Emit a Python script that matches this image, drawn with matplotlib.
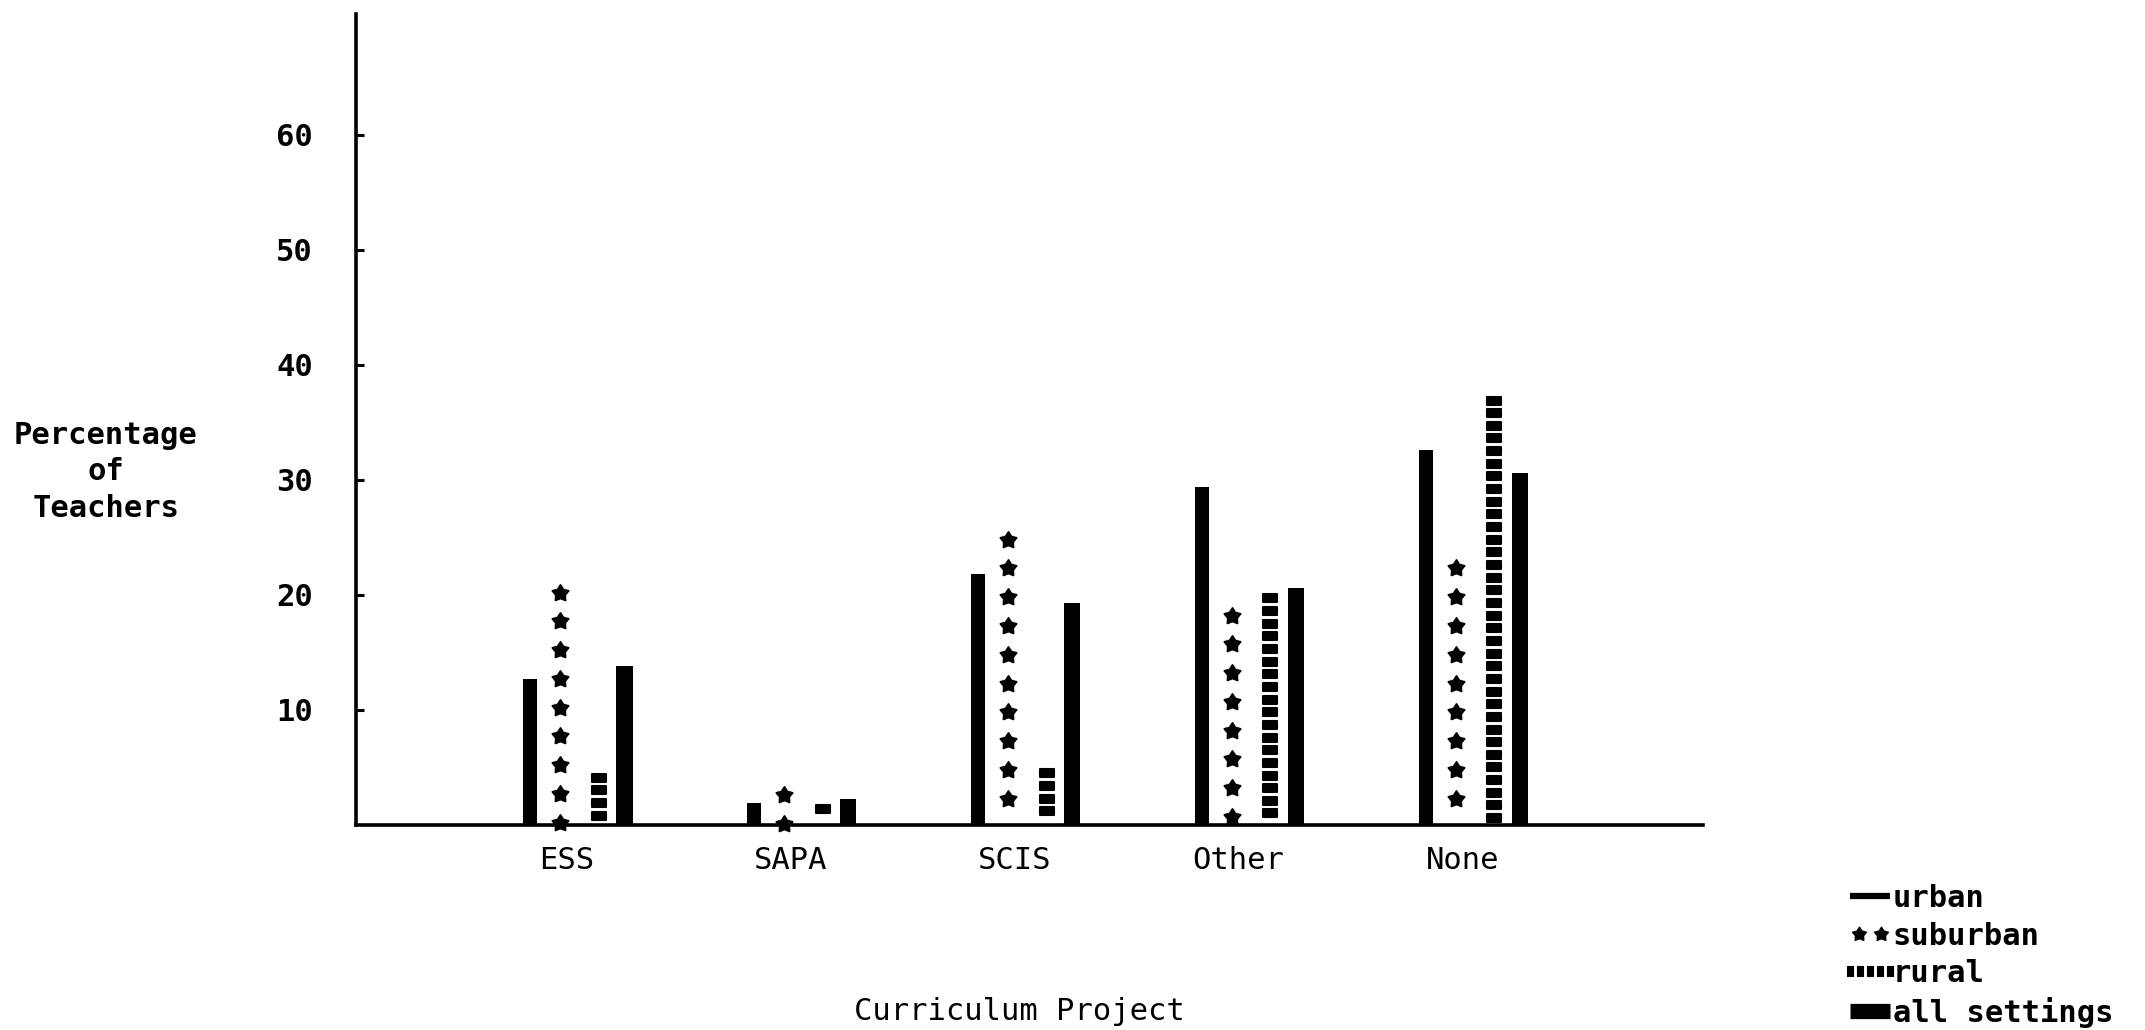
import matplotlib
matplotlib.use("Agg")
import matplotlib.pyplot as plt
import numpy as np
from matplotlib.lines import Line2D
from matplotlib.markers import MarkerStyle
from matplotlib.path import Path
from matplotlib.legend_handler import HandlerLine2D

# Percentage of teachers using each curriculum project, by school setting
categories = ["ESS", "SAPA", "SCIS", "Other", "None"]
urban = [12.7, 1.9, 21.8, 29.4, 32.6]
suburban = [20.2, 2.6, 24.8, 18.2, 22.3]
rural = [4.5, 1.8, 4.9, 20.1, 37.3]
all_settings = [13.8, 2.3, 19.3, 20.6, 30.6]
yticks = [10, 20, 30, 40, 50, 60]

plt.rcParams["font.family"] = ["DejaVu Sans Mono"]
FS = 22

fig = plt.figure(figsize=(21.45, 10.3), dpi=100)
W, H = 2145, 1030
ax = fig.add_axes([356 / W, 1 - 825 / H, (1703 - 356) / W, (825 - 14) / H])

x = np.arange(len(categories))
off = [-0.207, -0.073, 0.098, 0.213]

# a plump five-pointed star
ang = np.pi / 2 + np.arange(10) * np.pi / 5
rad = np.where(np.arange(10) % 2 == 0, 1.0, 0.58)
star_verts = np.column_stack([rad * np.cos(ang), rad * np.sin(ang)])
star = MarkerStyle(Path(np.vstack([star_verts, star_verts[:1]]), closed=True),
                   joinstyle="round")

# small rounded blocks: wide ones for the bars, tall ones for the key
block = Path([(-0.75, -0.5), (0.75, -0.5), (0.75, 0.5), (-0.75, 0.5),
              (-0.75, -0.5)], closed=True)
blk = MarkerStyle(block, joinstyle="round")
tall = Path([(-0.5, -0.75), (0.5, -0.75), (0.5, 0.75), (-0.5, 0.75),
             (-0.5, -0.75)], closed=True)
blk_tall = MarkerStyle(tall, joinstyle="round")

# urban: solid narrow bars
ax.bar(x + off[0], urban, width=0.062, color="black", zorder=3)

# suburban: columns of stars
star_step = 2.5
for xi, v in zip(x, suburban):
    ys = np.arange(v, 0, -star_step)
    ax.plot(np.full_like(ys, xi + off[1]), ys, ls="none", marker=star,
            ms=12.5, mew=1.2, color="black", zorder=3, clip_on=False)

# rural: columns of blocks
sq_step = 1.1
for xi, v in zip(x, rural):
    ys = np.arange(v - 0.4, 0.3, -sq_step)
    ax.plot(np.full_like(ys, xi + off[2]), ys, ls="none", marker=blk,
            ms=9.5, mew=1.5, color="black", zorder=3, clip_on=False)

# all settings: solid wider bars
ax.bar(x + off[3], all_settings, width=0.072, color="black", zorder=3)

ax.set_xlim(-0.986, 5.03)
ax.set_ylim(0, 70.5)

for s in ("top", "right"):
    ax.spines[s].set_visible(False)
ax.spines["left"].set_linewidth(2.6)
ax.spines["bottom"].set_linewidth(2.6)

ax.set_yticks(yticks)
ax.set_yticklabels([str(t) for t in yticks], fontsize=FS, fontweight="bold")
ax.tick_params(axis="y", direction="in", length=6, width=2.2, pad=31)

ax.set_xticks(x - 0.045)
ax.set_xticklabels(categories, fontsize=FS)
ax.tick_params(axis="x", length=0, pad=15)

fig.text(106 / W, 1 - 472 / H, "Percentage\nof\nTeachers", ha="center",
         va="center", multialignment="center", fontsize=FS, fontweight="bold",
         linespacing=1.34)
fig.text(1019 / W, 1 - 1012 / H, "Curriculum Project", ha="center",
         va="center", fontsize=FS)

handles = [
    Line2D([], [], color="black", lw=4.5, solid_capstyle="butt"),
    Line2D([], [], color="black", ls="none", marker=star, ms=10.5, mew=1),
    Line2D([], [], color="black", ls="none", marker=blk_tall, ms=6.5,
           mew=0.8),
    Line2D([], [], color="black", lw=11, solid_capstyle="butt"),
]
labels = ["urban", "suburban", "rural", "all settings"]
hmap = {
    handles[1]: HandlerLine2D(numpoints=2),
    handles[2]: HandlerLine2D(numpoints=5, marker_pad=0.0),
}
leg = fig.legend(handles, labels, handler_map=hmap, loc="upper left",
                 bbox_to_anchor=(1850 / W, 1 - 884 / H), frameon=False,
                 prop={"family": "DejaVu Sans Mono", "weight": "bold",
                       "size": FS},
                 handlelength=1.3, handletextpad=0.1, labelspacing=0.28,
                 borderpad=0, borderaxespad=0)

fig.savefig("out.png", dpi=100)
